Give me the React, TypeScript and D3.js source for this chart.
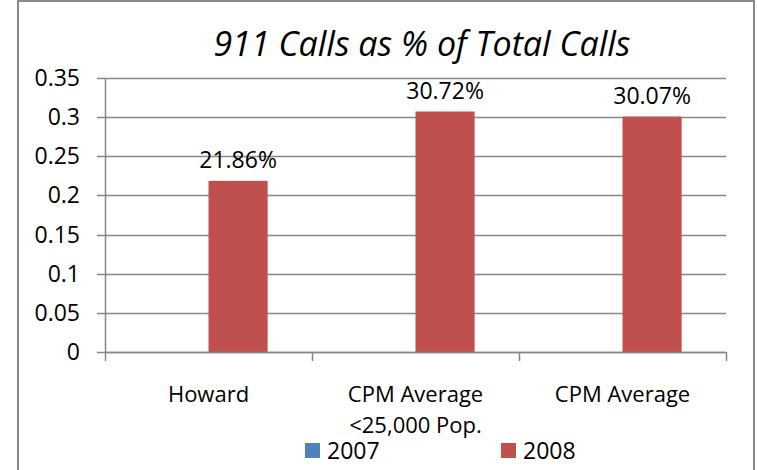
import React, { useEffect, useRef } from 'react'
import * as d3 from 'd3'

const categories = ['Howard', 'CPM Average\n<25,000 Pop.', 'CPM Average']
const seriesNames = ['2007', '2008']
const values2007: (number | null)[] = [null, null, null]
const values2008 = [0.2186, 0.3072, 0.3007]
const yTicks = [0, 0.05, 0.1, 0.15, 0.2, 0.25, 0.3, 0.35]
const colors = ['#4F81BD', '#C0504D']

const W = 757
const H = 470
const margin = { top: 78, right: 31, bottom: 118, left: 105 }
const FONT = '"Open Sans", sans-serif'
const GRID = '#878787'

const App = () => {
    const svgRef = useRef<SVGSVGElement>(null)

    useEffect(() => {
        const svg = d3.select(svgRef.current)
        svg.selectAll('*').remove()

        const x0 = margin.left
        const x1 = W - margin.right
        const yBottom = H - margin.bottom
        const yTop = margin.top

        // chart border
        svg.append('rect')
            .attr('x', 18)
            .attr('y', 1)
            .attr('width', 736)
            .attr('height', 480)
            .attr('fill', '#fff')
            .attr('stroke', '#898989')
            .attr('stroke-width', 2)

        const x = d3.scaleBand<string>()
            .domain(categories)
            .range([x0, x1])
            .paddingInner(0)
            .paddingOuter(0)

        const xs = d3.scaleBand<string>()
            .domain(seriesNames)
            .range([0, x.bandwidth()])
            .paddingInner(0)
            .paddingOuter(0.75)

        const y = d3.scaleLinear()
            .domain([0, 0.35])
            .range([yBottom, yTop])

        // gridlines
        svg.append('g')
            .selectAll('line')
            .data(yTicks)
            .enter()
            .append('line')
            .attr('x1', x0 - 8)
            .attr('x2', x1)
            .attr('y1', (d) => Math.round(y(d)) + 0.5)
            .attr('y2', (d) => Math.round(y(d)) + 0.5)
            .attr('stroke', GRID)
            .attr('stroke-width', 1.5)

        // y labels
        svg.append('g')
            .selectAll('text')
            .data(yTicks)
            .enter()
            .append('text')
            .attr('x', 80)
            .attr('y', (d) => y(d) + 8)
            .attr('text-anchor', 'end')
            .style('font-family', FONT)
            .style('font-size', '23px')
            .text((d) => String(d))

        // y axis line
        svg.append('line')
            .attr('x1', x0 + 0.5)
            .attr('x2', x0 + 0.5)
            .attr('y1', yTop)
            .attr('y2', yBottom)
            .attr('stroke', GRID)
            .attr('stroke-width', 1.5)

        // x ticks at band edges
        const edges = categories.map((c) => x(c) as number).concat([x1])
        svg.append('g')
            .selectAll('line')
            .data(edges)
            .enter()
            .append('line')
            .attr('x1', (d) => Math.round(d) + 0.5)
            .attr('x2', (d) => Math.round(d) + 0.5)
            .attr('y1', yBottom)
            .attr('y2', yBottom + 9)
            .attr('stroke', GRID)
            .attr('stroke-width', 1.5)

        // bars
        const series = [values2007, values2008]
        series.forEach((vals, si) => {
            svg.append('g')
                .selectAll('rect')
                .data(vals.map((v, i) => ({ v, c: categories[i] })).filter((d) => d.v != null))
                .enter()
                .append('rect')
                .attr('x', (d) => (x(d.c) as number) + (xs(seriesNames[si]) as number))
                .attr('width', xs.bandwidth())
                .attr('y', (d) => y(d.v as number))
                .attr('height', (d) => yBottom - y(d.v as number))
                .attr('fill', colors[si])
        })

        // x axis line on top of bars
        svg.append('line')
            .attr('x1', x0)
            .attr('x2', x1)
            .attr('y1', Math.round(yBottom) + 0.5)
            .attr('y2', Math.round(yBottom) + 0.5)
            .attr('stroke', GRID)
            .attr('stroke-width', 1.5)

        // value labels
        svg.append('g')
            .selectAll('text')
            .data(values2008.map((v, i) => ({ v, c: categories[i] })))
            .enter()
            .append('text')
            .attr('x', (d) => (x(d.c) as number) + (xs('2008') as number) + xs.bandwidth() / 2)
            .attr('y', (d) => y(d.v) - 13)
            .attr('text-anchor', 'middle')
            .style('font-family', FONT)
            .style('font-size', '23px')
            .text((d) => `${(d.v * 100).toFixed(2)}%`)

        // category labels
        const cat = svg.append('g')
            .selectAll('text')
            .data(categories)
            .enter()
            .append('text')
            .attr('x', (d) => (x(d) as number) + x.bandwidth() / 2)
            .attr('y', yBottom + 50)
            .attr('text-anchor', 'middle')
            .style('font-family', FONT)
            .style('font-size', '22px')
        cat.selectAll('tspan')
            .data((d) => d.split('\n'))
            .enter()
            .append('tspan')
            .attr('x', function () {
                return (this.parentNode as SVGTextElement).getAttribute('x')
            })
            .attr('dy', (_d, i) => (i === 0 ? 0 : 31))
            .text((d) => d)

        // legend
        const legendX = [305, 501]
        seriesNames.forEach((name, i) => {
            svg.append('rect')
                .attr('x', legendX[i])
                .attr('y', 443)
                .attr('width', 15)
                .attr('height', 15)
                .attr('fill', colors[i])
            svg.append('text')
                .attr('x', legendX[i] + 22)
                .attr('y', 459)
                .style('font-family', FONT)
                .style('font-size', '23px')
                .text(name)
        })

        // title
        svg.append('text')
            .attr('x', 422)
            .attr('y', 56)
            .attr('text-anchor', 'middle')
            .style('font-family', FONT)
            .style('font-style', 'italic')
            .style('font-size', '34px')
            .text('911 Calls as % of Total Calls')
    }, [])

    return (
        <div style={{ position: 'absolute', left: 0, top: 0 }}>
            <svg ref={svgRef} width={W} height={H} style={{ display: 'block' }} />
        </div>
    )
}

export default App
